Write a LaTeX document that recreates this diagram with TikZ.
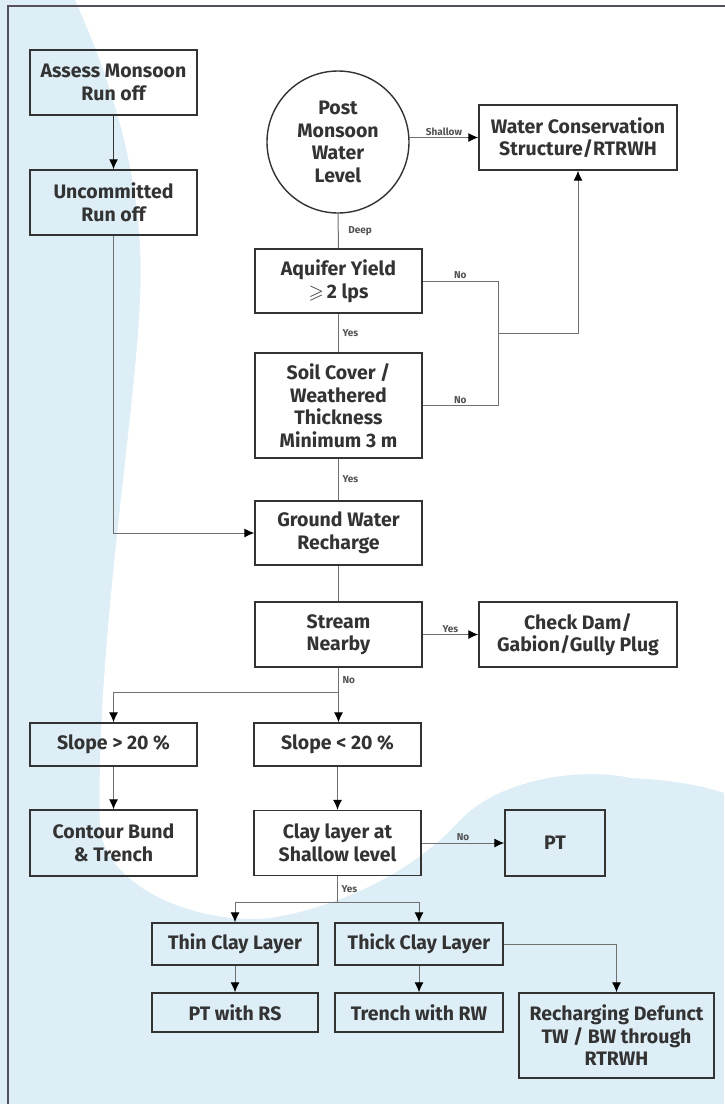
\documentclass[tikz,border=0pt]{standalone}
\usepackage{fontspec}
\setmainfont{Fira Sans}
\usepackage{amssymb}
\usetikzlibrary{arrows.meta,calc}
\definecolor{bgblue}{HTML}{DDEEF7}
\definecolor{boxc}{HTML}{333333}
\definecolor{linec}{HTML}{707070}
\definecolor{framec}{HTML}{55505A}
\begin{document}
\begin{tikzpicture}[x=1pt,y=-1pt,
  box/.style={draw=boxc, line width=1.4pt, align=center, inner sep=0pt,
    font=\bfseries\fontsize{19.5}{22.5}\selectfont, text=boxc},
  conn/.style={draw=linec, line width=1pt},
  arr/.style={conn, -{Latex[length=10pt,width=9pt,color=black]}},
  lab/.style={font=\bfseries\fontsize{10}{11}\selectfont, text=boxc!85, inner sep=1.5pt}]
\useasboundingbox (0,0) rectangle (724,1104);
% background
\fill[bgblue] (0,0) rectangle (724,1104);
\fill[white] (75,0) .. controls (125,110) and (145,210) .. (140,300)
  .. controls (135,420) and (95,650) .. (100,830)
  .. controls (110,890) and (200,925) .. (270,918)
  .. controls (350,905) and (420,865) .. (460,820)
  .. controls (510,770) and (600,770) .. (630,778)
  .. controls (680,780) and (710,788) .. (724,793) -- (724,0) -- cycle;
% frame
\draw[framec, line width=2pt] (8,1110) -- (8,6) -- (730,6);
% nodes
\node[box, minimum width=167pt, minimum height=65pt] (assess) at (113.5,82.5) {Assess Monsoon\\Run off};
\node[box, minimum width=167pt, minimum height=65pt] (uncom) at (113.5,202.5) {Uncommitted\\Run off};
\node[box, circle, minimum size=142pt] (post) at (338,142) {Post\\Monsoon\\Water\\Level};
\node[box, minimum width=198pt, minimum height=65pt] (wcs) at (578,137.5) {Water Conservation\\Structure/RTRWH};
\node[box, minimum width=167pt, minimum height=64pt] (aquifer) at (338.5,281) {Aquifer Yield\\${\geqslant}$\,2 lps};
\node[box, minimum width=167pt, minimum height=105pt] (soil) at (338.5,405.5) {Soil Cover /\\Weathered\\Thickness\\Minimum 3 m};
\node[box, minimum width=167pt, minimum height=64pt] (gwr) at (338.5,533) {Ground Water\\Recharge};
\node[box, minimum width=167pt, minimum height=65pt] (stream) at (338.5,634.5) {Stream\\Nearby};
\node[box, minimum width=198pt, minimum height=65pt] (check) at (578,634.5) {Check Dam/\\Gabion/Gully Plug};
\node[box, minimum width=167pt, minimum height=43pt] (sgt) at (113.5,744.5) {Slope > 20 \%};
\node[box, minimum width=167pt, minimum height=43pt] (slt) at (337.5,744.5) {Slope < 20 \%};
\node[box, minimum width=167pt, minimum height=66pt] (contour) at (113.5,843) {Contour Bund\\\& Trench};
\node[box, minimum width=167pt, minimum height=65pt] (clay) at (337.5,843) {Clay layer at\\Shallow level};
\node[box, minimum width=100pt, minimum height=66pt] (pt) at (555,843) {PT};
\node[box, minimum width=166pt, minimum height=42pt] (thin) at (235,944) {Thin Clay Layer};
\node[box, minimum width=168pt, minimum height=42pt] (thick) at (419,944) {Thick Clay Layer};
\node[box, minimum width=166pt, minimum height=39pt] (ptrs) at (235,1012.5) {PT with RS};
\node[box, minimum width=168pt, minimum height=39pt] (trench) at (419,1012.5) {Trench with RW};
\node[box, minimum width=195pt, minimum height=85pt] (rech) at (616.5,1035.5) {Recharging Defunct\\TW / BW through\\RTRWH};
% junction coordinates
\coordinate (nx) at (498,333);
\coordinate (sp) at (338.5,692);
\coordinate (cs) at (337.5,902);
% connectors
\draw[arr, draw=boxc, line width=1.3pt] (assess.south) -- (uncom.north);
\draw[arr] (uncom.south) |- (gwr.west);
\draw[arr] (wcs.west -| post.east) -- node[lab, above] {Shallow} (wcs.west);
\draw[conn] (post.south) -- node[lab, right, xshift=8pt] {Deep} (aquifer.north);
\draw[conn] (aquifer.south) -- node[lab, right, xshift=2pt] {Yes} (soil.north);
\draw[conn] (aquifer.east) -- node[lab, above] {No} (aquifer.east -| nx) -- (soil.east -| nx) -- node[lab, above] {No} (soil.east);
\draw[arr] (nx) -| (wcs.south);
\draw[conn] (soil.south) -- node[lab, right, xshift=2pt] {Yes} (gwr.north);
\draw[conn] (gwr.south) -- (stream.north);
\draw[arr] (stream.east) -- node[lab, above] {Yes} (check.west);
\draw[conn] (stream.south) -- node[lab, right, xshift=2pt] {No} (sp);
\draw[arr] (sp) -| (sgt.north);
\draw[arr] (sp) -- (sp |- slt.north);
\draw[arr] (sgt.south) -- (contour.north);
\draw[arr] (slt.south) -- (clay.north);
\draw[arr] (clay.east) -- node[lab, above] {No} (pt.west);
\draw[conn] (clay.south) -- node[lab, right, xshift=2pt] {Yes} (cs);
\draw[arr] (cs) -| (thin.north);
\draw[arr] (cs) -| (thick.north);
\draw[arr] (thin.south) -- (ptrs.north);
\draw[arr] (thick.south) -- (trench.north);
\draw[arr] (thick.east) -| (rech.north);
\end{tikzpicture}
\end{document}
